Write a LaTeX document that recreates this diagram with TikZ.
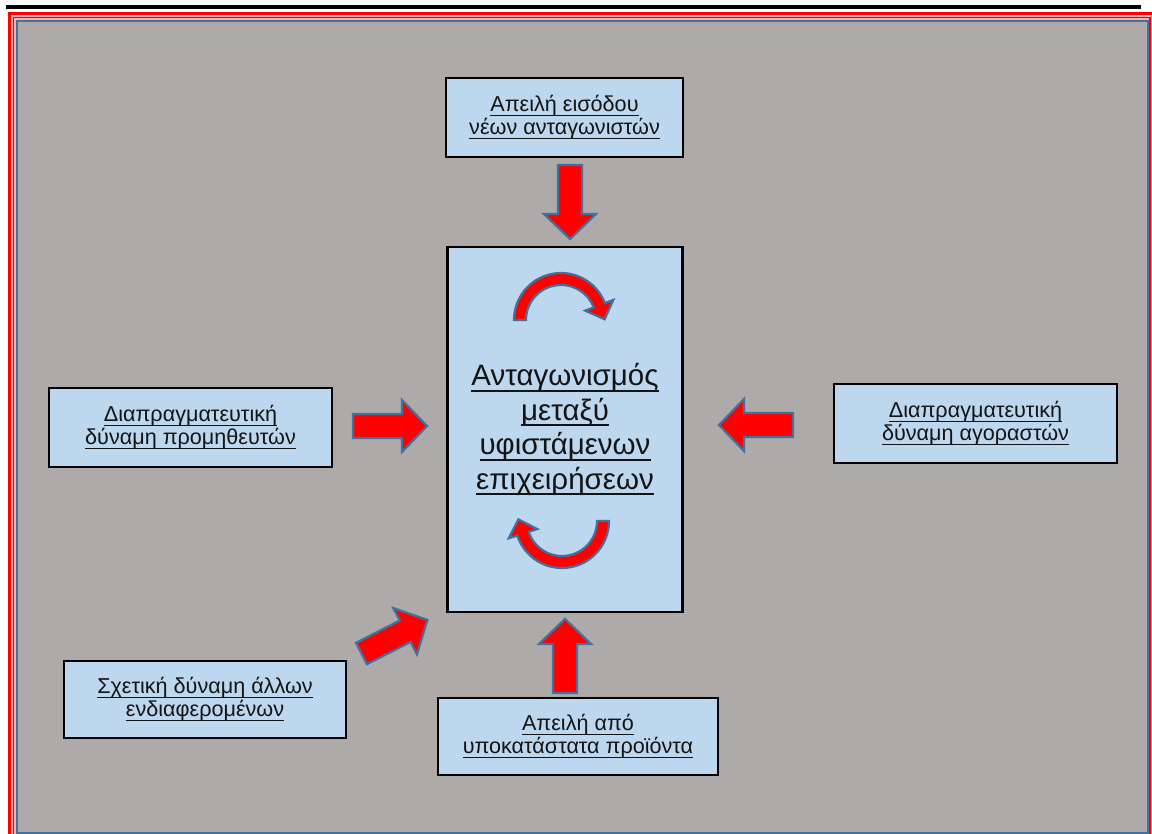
\documentclass[tikz,border=0pt]{standalone}
\usepackage{fontspec}
\setmainfont{Liberation Sans}
\definecolor{bggray}{RGB}{174,170,170}
\definecolor{boxblue}{RGB}{189,215,238}
\definecolor{edgeblue}{RGB}{65,113,156}
\definecolor{arrred}{RGB}{255,0,0}
\definecolor{framepink}{RGB}{255,175,175}
\definecolor{inktext}{RGB}{20,20,20}
\newcommand\uln[1]{\leavevmode\setbox0\hbox{#1}\rlap{\rule[-0.2em]{\wd0}{0.06em}}\box0}
\tikzset{
  forcebox/.style={draw=black, line width=2.2pt, fill=boxblue, align=center,
    font=\fontsize{21.6}{23}\selectfont, text=inktext, inner sep=0pt},
  corebox/.style={forcebox, font=\fontsize{29.5}{34.5}\selectfont},
  blockarrow/.style={fill=arrred, draw=edgeblue, line width=2.2pt, line join=miter},
}
\newcommand\blockarr[3]{%
  \begin{scope}[shift={(#1,#2)}, rotate=#3]
    \filldraw[blockarrow] (0,-12) -- (49,-12) -- (49,-26) -- (74,0) -- (49,26) -- (49,12) -- (0,12) -- cycle;
  \end{scope}}
\begin{document}
\begin{tikzpicture}[x=1pt, y=-1pt]
\useasboundingbox (0,0) rectangle (1152,834);
\fill[white] (0,0) rectangle (1152,834);
% top rule
\fill[black] (6,5) rectangle (1141,9);
% frame
\fill[framepink] (9.5,13.5) rectangle (1154,838);
\draw[arrred, line width=3pt] (9.5,13.5) rectangle (1154,838);
\draw[arrred, line width=1.5pt] (13.5,17.5) rectangle (1149.8,835.5);
\filldraw[fill=bggray, draw=edgeblue, line width=2pt] (16.5,21) rectangle (1147.5,832.5);

% nodes
\node[forcebox, minimum width=237pt, minimum height=79pt] (ent) at (564.5,117.5)
  {\uln{Απειλή εισόδου}\\\uln{νέων ανταγωνιστών}};
\node[corebox, minimum width=235pt, minimum height=365pt] (core) at (565,429.5)
  {\uln{Ανταγωνισμός}\\\uln{μεταξύ}\\\uln{υφιστάμενων}\\\uln{επιχειρήσεων}};
\node[forcebox, minimum width=283pt, minimum height=79pt] (sup) at (190.5,427.5)
  {\uln{Διαπραγματευτική}\\\uln{δύναμη προμηθευτών}};
\node[forcebox, minimum width=283pt, minimum height=79pt] (buy) at (975.5,423.5)
  {\uln{Διαπραγματευτική}\\\uln{δύναμη αγοραστών}};
\node[forcebox, minimum width=282pt, minimum height=77pt] (oth) at (205,699.5)
  {\uln{Σχετική δύναμη άλλων}\\\uln{ενδιαφερομένων}};
\node[forcebox, minimum width=280pt, minimum height=77pt] (sub) at (578,736.5)
  {\uln{Απειλή από}\\\uln{υποκατάστατα προϊόντα}};

% block arrows
\blockarr{570}{165}{-90}
\blockarr{565}{693}{90}
\blockarr{353}{426}{0}
\blockarr{793}{425}{180}
\blockarr{361.5}{653.5}{27}

% curved arrows inside the core box
\filldraw[blockarrow]
  plot[domain=180:339, samples=40] ({561+47*cos(\x)},{320+47*sin(\x)})
  -- ({561+56*cos(339)},{320+56*sin(339)})
  -- ({561+41*cos(339)-15*sin(339)},{320+41*sin(339)+15*cos(339)})
  -- ({561+26*cos(339)},{320+26*sin(339)})
  -- plot[domain=339:180, samples=40] ({561+35*cos(\x)},{320+35*sin(\x)})
  -- cycle;
\filldraw[blockarrow]
  plot[domain=0:162, samples=40] ({562+47*cos(\x)},{521+47*sin(\x)})
  -- ({562+56*cos(162)},{521+56*sin(162)})
  -- ({562+41*cos(162)-15*sin(162)},{521+41*sin(162)+15*cos(162)})
  -- ({562+26*cos(162)},{521+26*sin(162)})
  -- plot[domain=162:0, samples=40] ({562+35*cos(\x)},{521+35*sin(\x)})
  -- cycle;
\end{tikzpicture}
\end{document}
